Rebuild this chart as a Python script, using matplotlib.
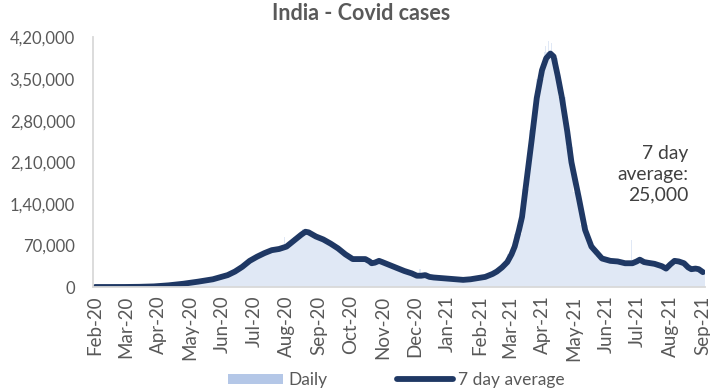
import numpy as np
import pandas as pd
import matplotlib
matplotlib.use("Agg")
import matplotlib.pyplot as plt
from matplotlib.patches import Patch
from matplotlib.lines import Line2D

plt.rcParams['font.family'] = ['Lato', 'DejaVu Sans']

start = pd.Timestamp('2020-02-01')

# 7 day average (thousands) at day offsets from start
avg_days = [0, 14, 28, 42, 56, 70, 84, 98, 112, 126, 133, 140, 147, 154, 161, 168, 175, 182,
            189, 196, 200, 203, 207, 210, 217, 224, 231, 238, 245, 252, 257, 261, 263, 266,
            270, 273, 280, 287, 294, 301, 306, 310, 314, 318, 322, 329, 336, 343, 350, 357,
            364, 371, 378, 382, 387, 392, 396, 399, 403, 406, 410, 415, 420, 425, 429, 433,
            436, 440, 444, 449, 453, 460, 466, 472, 482, 490, 497, 504, 511, 515, 518, 522,
            525, 532, 539, 543, 547, 551, 555, 560, 564, 567, 571, 574, 578]
avg_vals = [0, 0, 0.05, 0.3, 1.0, 2.8, 5.5, 9, 13, 20, 26, 34, 44, 51, 57, 62, 64, 68,
            78, 88, 93, 92, 88, 85, 80, 73, 65, 55, 47, 47, 47, 43, 40, 41,
            44, 42, 37, 32, 27, 23, 19, 19, 20, 17, 16, 15, 14, 13, 12, 13,
            15, 17, 22, 26, 33, 42, 55, 68, 95, 118, 175, 245, 318, 365, 385, 393,
            388, 355, 318, 262, 210, 150, 96, 68, 48, 44, 43, 40, 40, 43, 46, 42,
            41, 39, 35, 31, 38, 44, 43, 40, 33, 30, 31, 30, 25]

# daily cases (thousands), weekly bins centred at day offsets
daily_days = list(range(3, 578, 7))
daily_vals = [0, 0, 0, 0, 0.1, 0.2, 0.5, 0.8, 1.4, 2.2, 3.5, 4.8, 6.5, 8, 10, 12, 14, 18,
              24, 30, 40, 49, 55, 60, 63, 66, 74, 84, 94, 90, 84, 77, 69, 60, 50, 47,
              48, 41, 44, 40, 34, 30, 25, 21, 20, 17, 16, 14, 13, 12, 12, 14, 16, 19,
              26, 36, 55, 90, 165, 265, 350, 395, 385, 320, 235, 160, 105, 70, 52, 46,
              44, 42, 40, 42, 45, 40, 37, 33, 42, 42, 36, 31, 27]

# single-day spikes (thousands)
spike_days = [180, 197, 205, 309, 428, 431, 434, 510]
spike_vals = [85, 97, 96, 30, 405, 414, 410, 79]

tick_months = pd.date_range('2020-02-01', '2021-09-01', freq='MS')
tick_labels = [d.strftime('%b-%y') for d in tick_months]

y_ticks = [0, 70000, 140000, 210000, 280000, 350000, 420000]
y_labels = ['0', '70,000', '1,40,000', '2,10,000', '2,80,000', '3,50,000', '4,20,000']

BAR = '#e0e8f5'
LEG_BAR = '#b4c7e7'
LINE = '#1f3864'
TXT = '#595959'

fig = plt.figure(figsize=(7.1, 3.92), dpi=100)
ax = fig.add_axes([93/710, 1-287/392, (705-93)/710, (287-37.5)/392])

dd = [start + pd.Timedelta(days=d) for d in daily_days]
ax.bar(dd, np.array(daily_vals)*1000, width=7, color=BAR, linewidth=0)
sd = [start + pd.Timedelta(days=d) for d in spike_days]
ax.bar(sd, np.array(spike_vals)*1000, width=1.2, color=BAR, linewidth=0)
ad = [start + pd.Timedelta(days=d) for d in avg_days]
ax.plot(ad, np.array(avg_vals)*1000, color=LINE, lw=4.2, solid_capstyle='round',
        solid_joinstyle='round')

ax.set_xlim(start - pd.Timedelta(days=2), start + pd.Timedelta(days=580))
ax.set_ylim(0, 420000)
ax.set_xticks(tick_months)
ax.set_xticklabels(tick_labels, rotation=90, fontsize=13.5, color=TXT)
ax.set_yticks(y_ticks)
ax.set_yticklabels(y_labels, fontsize=12, color=TXT)
ax.tick_params(axis='both', length=0)
ax.tick_params(axis='y', pad=13)
ax.tick_params(axis='x', pad=6)
for s in ['top', 'right']:
    ax.spines[s].set_visible(False)
for s in ['left', 'bottom']:
    ax.spines[s].set_color('#d9d9d9')
    ax.spines[s].set_linewidth(1.3)

fig.text(361/710, 1-14/392, 'India - Covid cases', ha='center', va='center',
         fontsize=15.5, fontweight='bold', color=TXT)

ax.text(start + pd.Timedelta(days=564), 190000, '7 day\naverage:\n25,000', ha='right',
        va='center', fontsize=13.9, color='#404040', linespacing=1.25)

handles = [Patch(facecolor=LEG_BAR, edgecolor='none'),
           Line2D([0], [0], color=LINE, lw=4.2, solid_capstyle='round')]
fig.legend(handles, ['Daily', '7 day average'], loc='center', ncol=2,
           bbox_to_anchor=(396/710, 1-380/392), frameon=False, fontsize=12.5,
           handlelength=3.2, handleheight=0.5, columnspacing=4.0, handletextpad=0.3,
           labelcolor=TXT)

fig.savefig('out.png', dpi=100)
